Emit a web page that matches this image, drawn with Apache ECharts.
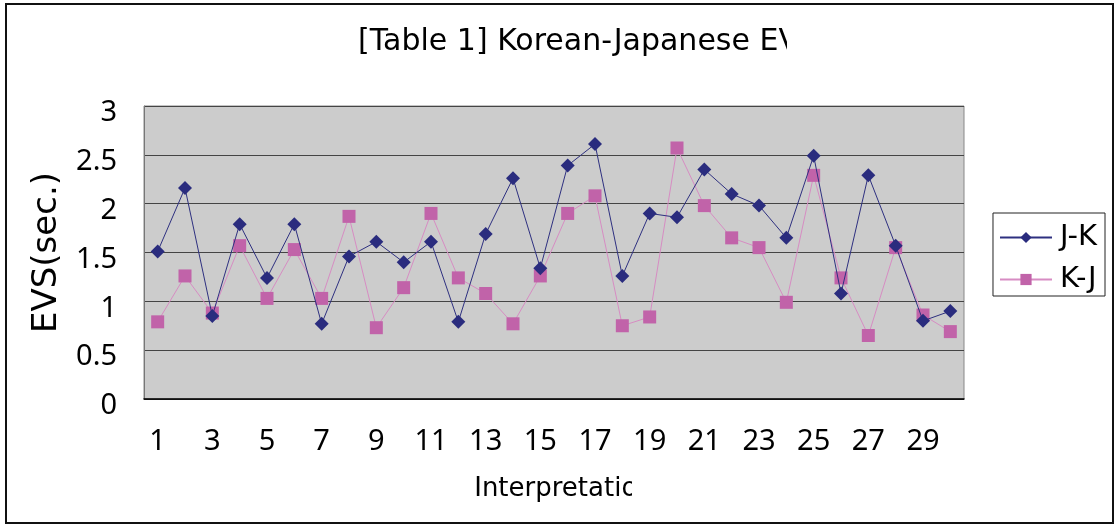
<!DOCTYPE html>
<html><head><meta charset="utf-8">
<script src="https://cdn.jsdelivr.net/npm/echarts@6/dist/echarts.min.js"></script>
<style>html,body{margin:0;padding:0;background:#fff}#c{width:1116px;height:525px}</style>
</head><body><div id="c"></div>
<script>
var categories = ['1','2','3','4','5','6','7','8','9','10','11','12','13','14','15','16','17','18','19','20','21','22','23','24','25','26','27','28','29','30'];
var jk = [1.51,2.16,0.85,1.79,1.24,1.79,0.77,1.46,1.61,1.40,1.61,0.79,1.69,2.26,1.34,2.39,2.61,1.26,1.90,1.86,2.35,2.10,1.98,1.65,2.49,1.08,2.29,1.57,0.80,0.90];
var kj = [0.79,1.26,0.88,1.57,1.03,1.53,1.03,1.87,0.73,1.14,1.90,1.24,1.08,0.77,1.26,1.90,2.08,0.75,0.84,2.57,1.98,1.65,1.55,0.99,2.29,1.24,0.65,1.55,0.86,0.69];
var titleText = '[Table 1] Korean-Japanese EVS';
var xName = 'Interpretation';
var yName = 'EVS(sec.)';
var wide = 'DejaVu Sans';
var num = 'Noto Sans';
var chart = echarts.init(document.getElementById('c'));
chart.setOption({
  animation: false,
  backgroundColor: '#fff',
  title: {
    text: titleText, left: 353, top: 22,
    textStyle: {fontFamily: wide, fontSize: 30, fontWeight: 'normal', color: '#000'}
  },
  graphic: [
    {type: 'rect', shape: {x: 6, y: 4, width: 1107, height: 519}, style: {fill: 'none', stroke: '#111', lineWidth: 2}, silent: true, z: 101},
    {type: 'rect', shape: {x: 787, y: 12, width: 60, height: 60}, style: {fill: '#fff'}, silent: true, z: 100},
    {type: 'rect', shape: {x: 632, y: 462, width: 44, height: 50}, style: {fill: '#fff'}, silent: true, z: 100}
  ],
  legend: {
    orient: 'vertical', right: 11, top: 213,
    data: ['J-K', 'K-J'],
    borderColor: '#222', borderWidth: 1, padding: [10, 8, 2, 6],
    itemWidth: 52, itemHeight: 14, itemGap: 13,
    textStyle: {fontFamily: wide, fontSize: 29, color: '#000', padding: [0, 0, 0, 3]}
  },
  grid: {left: 144, right: 152, top: 106, bottom: 126, show: true, backgroundColor: '#CCCCCC', borderColor: '#888', borderWidth: 1},
  xAxis: {
    type: 'category', data: categories, boundaryGap: true,
    name: xName, nameLocation: 'middle', nameGap: 77,
    nameTextStyle: {fontFamily: wide, fontSize: 26, color: '#000', padding: [0, 0, 0, 20]},
    axisLine: {lineStyle: {color: '#000', width: 1.5}},
    axisTick: {inside: true, length: 10, interval: 0, lineStyle: {color: '#000'}},
    axisLabel: {interval: 1, fontFamily: num, fontSize: 29, color: '#000', margin: 28}
  },
  yAxis: {
    type: 'value', min: 0, max: 3, interval: 0.5,
    name: yName, nameLocation: 'middle', nameGap: 80, nameRotate: 90,
    nameTextStyle: {fontFamily: wide, fontSize: 34, color: '#000'},
    axisLine: {show: true, lineStyle: {color: '#777'}},
    axisTick: {show: false},
    axisLabel: {fontFamily: num, fontSize: 29, color: '#000', margin: 27, verticalAlign: 'top', lineHeight: 14},
    splitLine: {lineStyle: {color: '#444', width: 1}}
  },
  series: [
    {name: 'J-K', type: 'line', data: jk, symbol: 'diamond', symbolSize: 14,
     lineStyle: {color: '#2E3080', width: 1}, itemStyle: {color: '#2A2C7E'}, z: 3},
    {name: 'K-J', type: 'line', data: kj, symbol: 'rect', symbolSize: 13,
     lineStyle: {color: '#D78CC3', width: 1}, itemStyle: {color: '#C163A9'}, z: 2}
  ]
});
</script></body></html>
